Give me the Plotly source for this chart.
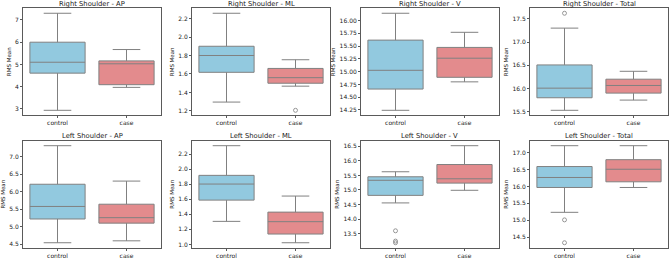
import plotly.graph_objects as go

# ---------------- data ----------------
categories = ["control", "case"]
panel_titles = [
    "Right Shoulder - AP", "Right Shoulder - ML", "Right Shoulder - V", "Right Shoulder - Total",
    "Left Shoulder - AP", "Left Shoulder - ML", "Left Shoulder - V", "Left Shoulder - Total",
]

control_lower = [2.94, 1.296, 14.243, 15.53, 4.54, 1.307, 14.557, 15.234]
control_q1 = [4.61, 1.618, 14.659, 15.80, 5.218, 1.59, 14.816, 15.97]
control_median = [5.10, 1.80, 15.026, 16.007, 5.576, 1.804, 15.333, 16.266]
control_q3 = [6.00, 1.90, 15.617, 16.507, 6.21, 1.92, 15.454, 16.59]
control_upper = [7.30, 2.257, 16.143, 17.30, 7.31, 2.315, 15.626, 17.207]
control_outliers = [[], [], [], [17.62], [], [], [13.60, 13.247, 13.19], [15.01, 14.333]]

case_lower = [3.97, 1.468, 14.80, 15.75, 4.595, 1.022, 14.99, 15.97]
case_q1 = [4.09, 1.50, 14.889, 15.90, 5.10, 1.138, 15.236, 16.138]
case_median = [5.03, 1.56, 15.263, 16.065, 5.256, 1.303, 15.385, 16.51]
case_q3 = [5.16, 1.66, 15.474, 16.20, 5.64, 1.43, 15.874, 16.793]
case_upper = [5.67, 1.754, 15.77, 16.37, 6.30, 1.644, 16.52, 17.207]
case_outliers = [[], [1.207], [], [], [], [], [], []]

y_dtick = [1, 0.2, 0.25, 0.5, 0.5, 0.2, 0.5, 0.5]
y_format = ["d", ".1f", ".2f", ".1f", ".1f", ".1f", ".1f", ".1f"]

# ---------------- layout helpers ----------------
W, H = 669, 259
FONT = "DejaVu Sans"
colors = {"control": "#92C9DF", "case": "#E38B8D"}
line_col = "#808080"

col_left = [23, 192, 361, 530]
ax_w = 138
row_top = [8.5, 142.5]
ax_h = 108

fig = go.Figure()
annotations = []

for i in range(8):
    r, c = divmod(i, 4)
    idx = "" if i == 0 else str(i + 1)
    xa, ya = "x" + idx, "y" + idx

    stats = {
        "control": (control_lower[i], control_q1[i], control_median[i], control_q3[i], control_upper[i], control_outliers[i]),
        "case": (case_lower[i], case_q1[i], case_median[i], case_q3[i], case_upper[i], case_outliers[i]),
    }
    all_vals = []
    for cat in categories:
        lo, q1, med, q3, hi, outs = stats[cat]
        all_vals += [lo, hi] + outs
        fig.add_trace(go.Box(
            x=[cat], lowerfence=[lo], q1=[q1], median=[med], q3=[q3], upperfence=[hi],
            fillcolor=colors[cat], line=dict(color=line_col, width=1),
            width=0.8, whiskerwidth=0.5, boxpoints=False,
            xaxis=xa, yaxis=ya, showlegend=False, hoverinfo="skip",
        ))
        if outs:
            fig.add_trace(go.Scatter(
                x=[cat] * len(outs), y=outs, mode="markers",
                marker=dict(symbol="circle-open", size=4, color=line_col, line=dict(width=0.8)),
                xaxis=xa, yaxis=ya, showlegend=False, hoverinfo="skip",
            ))

    vmin, vmax = min(all_vals), max(all_vals)
    pad = 0.05 * (vmax - vmin)

    x0 = col_left[c] / W
    x1 = (col_left[c] + ax_w) / W
    y1 = 1 - row_top[r] / H
    y0 = 1 - (row_top[r] + ax_h) / H

    axis_common = dict(showline=True, linecolor="#5a5a5a", linewidth=1, mirror=True,
                       ticks="outside", ticklen=2, tickcolor="#5a5a5a", tickwidth=1,
                       showgrid=False, zeroline=False,
                       tickfont=dict(family=FONT, size=6, color="#222"))
    fig.layout["xaxis" + idx] = dict(domain=[x0, x1], anchor=ya, type="category",
                                      categoryorder="array", categoryarray=categories,
                                      range=[-0.5, 1.5], **axis_common)
    fig.layout["yaxis" + idx] = dict(domain=[y0, y1], anchor=xa,
                                      range=[vmin - pad, vmax + pad], dtick=y_dtick[i],
                                      tickformat=y_format[i],
                                      title=dict(text="RMS Mean", font=dict(family=FONT, size=5.5, color="#222"), standoff=3),
                                      **axis_common)
    annotations.append(dict(text=panel_titles[i], x=(x0 + x1) / 2, y=y1, xref="paper", yref="paper",
                            xanchor="center", yanchor="bottom", yshift=-1.5, showarrow=False,
                            font=dict(family=FONT, size=6.8, color="#222")))

fig.update_layout(width=W, height=H, margin=dict(l=0, r=0, t=0, b=0),
                  plot_bgcolor="white", paper_bgcolor="white",
                  annotations=annotations, boxmode="overlay")

fig.write_html("out.html")
